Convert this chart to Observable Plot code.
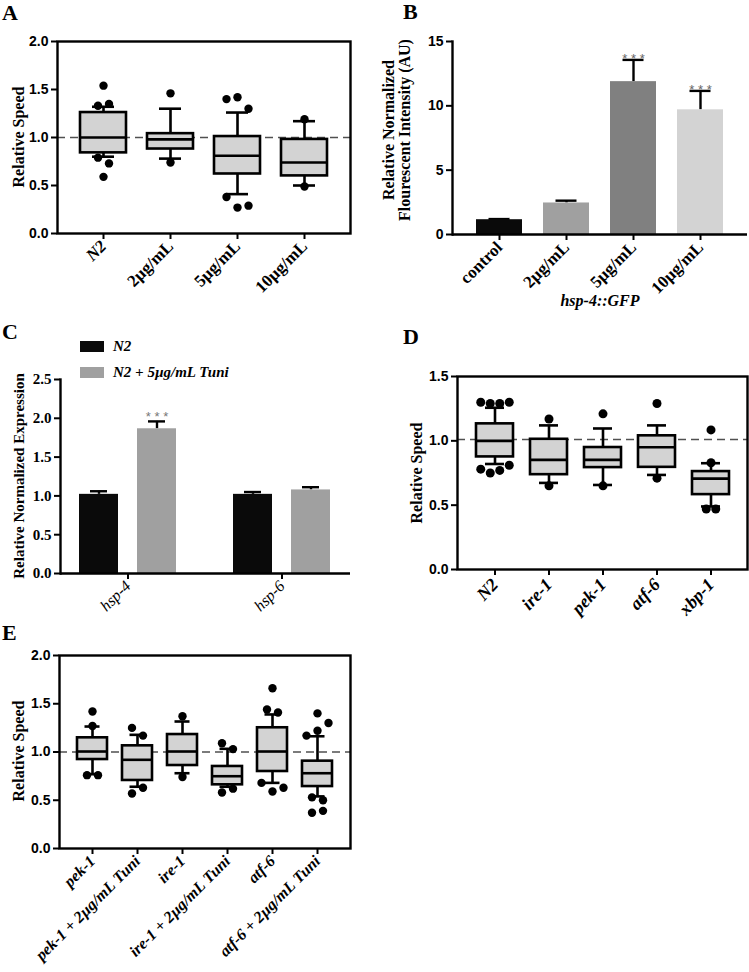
<!DOCTYPE html>
<html><head><meta charset="utf-8">
<script src="https://cdn.jsdelivr.net/npm/d3@7"></script>
<script src="https://cdn.jsdelivr.net/npm/@observablehq/plot@0.6"></script>
<style>
body{margin:0;background:#fff;}
#fig{position:relative;width:749px;height:972px;overflow:hidden;background:#fff;}
.letter{position:absolute;font-family:"Liberation Serif",serif;font-weight:bold;font-size:22px;line-height:1;}
.leg{position:absolute;font-family:"Liberation Serif",serif;font-weight:bold;font-style:italic;font-size:15px;line-height:1;white-space:nowrap;}
.sw{position:absolute;width:24px;height:11px;}
.vlab{position:absolute;font-family:"Liberation Serif",serif;font-weight:bold;white-space:pre;text-align:center;transform:translate(-50%,-50%) rotate(-90deg);}
</style></head><body><div id="fig"></div>
<script>
// ---------- Panel A data ----------
const groupsA = ["N2", "2µg/mL", "5µg/mL", "10µg/mL"];
const lowA = [0.80, 0.78, 0.41, 0.50];
const q1A = [0.84, 0.88, 0.62, 0.60];
const medA = [1.00, 0.98, 0.81, 0.74];
const q3A = [1.26, 1.04, 1.01, 0.98];
const highA = [1.32, 1.30, 1.26, 1.17];
const pointsA = [["N2",1.33],["N2",1.35],["N2",1.54],["N2",0.79],["N2",0.73],["N2",0.59],
  ["2µg/mL",1.46],["2µg/mL",0.74],
  ["5µg/mL",1.40],["5µg/mL",1.42],["5µg/mL",1.30],["5µg/mL",0.38],["5µg/mL",0.27],["5µg/mL",0.29],
  ["10µg/mL",1.19],["10µg/mL",0.49]];
const ticksA = [0, 0.5, 1.0, 1.5, 2.0];

// ---------- Panel B data ----------
const groupsB = ["control", "2µg/mL", "5µg/mL", "10µg/mL"];
const meanB = [1.15, 2.45, 11.88, 9.69];
const errB = [0.05, 0.18, 1.69, 1.47];
const colorsB = ["#0a0a0a", "#a0a0a0", "#808080", "#d3d3d3"];
const starsB = ["", "", "* * *", "* * *"];
const ticksB = [0, 5, 10, 15];

// ---------- Panel C data ----------
const genesC = ["hsp-4", "hsp-6"];
const seriesC = ["N2", "N2 + 5µg/mL Tuni"];
const n2MeanC = [1.02, 1.02];
const n2ErrC = [0.04, 0.03];
const tuniMeanC = [1.865, 1.077];
const tuniErrC = [0.095, 0.035];
const starsC = ["* * *", ""];
const colorsC = ["#0a0a0a", "#a0a0a0"];
const ticksC = [0, 0.5, 1.0, 1.5, 2.0, 2.5];

// ---------- Panel D data ----------
const groupsD = ["N2", "ire-1", "pek-1", "atf-6", "xbp-1"];
const lowD = [0.82, 0.673, 0.657, 0.735, 0.49];
const q1D = [0.875, 0.737, 0.792, 0.794, 0.582];
const medD = [1.0, 0.852, 0.852, 0.95, 0.706];
const q3D = [1.132, 1.012, 0.948, 1.039, 0.761];
const highD = [1.257, 1.12, 1.096, 1.12, 0.826];
const pointsD = [["N2",1.30],["N2",1.29],["N2",1.29],["N2",1.30],["N2",0.78],["N2",0.75],["N2",0.77],["N2",0.81],
  ["ire-1",1.17],["ire-1",0.65],["pek-1",1.21],["pek-1",0.65],["atf-6",1.29],["atf-6",0.71],
  ["xbp-1",1.085],["xbp-1",0.83],["xbp-1",0.47],["xbp-1",0.47]];
const ticksD = [0, 0.5, 1.0, 1.5];

// ---------- Panel E data ----------
const groupsE = ["pek-1", "pek-1 + 2µg/mL Tuni", "ire-1", "ire-1 + 2µg/mL Tuni", "atf-6", "atf-6 + 2µg/mL Tuni"];
const lowE = [0.77, 0.64, 0.78, 0.64, 0.68, 0.54];
const q1E = [0.922, 0.705, 0.86, 0.66, 0.798, 0.642];
const medE = [1.005, 0.919, 1.005, 0.749, 1.005, 0.78];
const q3E = [1.147, 1.064, 1.181, 0.85, 1.251, 0.905];
const highE = [1.264, 1.178, 1.316, 1.033, 1.389, 1.163];
const pointsE = [["pek-1",1.42],["pek-1",1.27],["pek-1",0.76],["pek-1",0.76],
  ["pek-1 + 2µg/mL Tuni",1.25],["pek-1 + 2µg/mL Tuni",1.17],["pek-1 + 2µg/mL Tuni",0.57],["pek-1 + 2µg/mL Tuni",0.63],
  ["ire-1",1.37],["ire-1",0.74],
  ["ire-1 + 2µg/mL Tuni",1.09],["ire-1 + 2µg/mL Tuni",1.03],["ire-1 + 2µg/mL Tuni",0.58],["ire-1 + 2µg/mL Tuni",0.62],
  ["atf-6",1.66],["atf-6",1.44],["atf-6",1.41],["atf-6",0.68],["atf-6",0.59],["atf-6",0.63],
  ["atf-6 + 2µg/mL Tuni",1.40],["atf-6 + 2µg/mL Tuni",1.17],["atf-6 + 2µg/mL Tuni",1.22],["atf-6 + 2µg/mL Tuni",1.30],
  ["atf-6 + 2µg/mL Tuni",0.53],["atf-6 + 2µg/mL Tuni",0.50],["atf-6 + 2µg/mL Tuni",0.37],["atf-6 + 2µg/mL Tuni",0.39]];
const ticksE = [0, 0.5, 1.0, 1.5, 2.0];

// ---------- helpers ----------
const TIMES = "'Liberation Serif', 'Times New Roman', serif";
const ARIAL = "'Liberation Sans', Arial, sans-serif";
const fig = document.getElementById("fig");
const f1 = d3.format(".1f");

function place(node, left, top) {
  node.style.position = "absolute";
  node.style.left = left + "px";
  node.style.top = top + "px";
  fig.appendChild(node);
}
function letter(t, left, top) {
  const d = document.createElement("div");
  d.className = "letter"; d.textContent = t;
  d.style.left = left + "px"; d.style.top = top + "px";
  fig.appendChild(d);
}
function vlabel(t, cx, cy, size, lh) {
  const d = document.createElement("div");
  d.className = "vlab"; d.textContent = t;
  d.style.left = cx + "px"; d.style.top = cy + "px";
  d.style.fontSize = size + "px"; d.style.lineHeight = (lh || size * 1.1) + "px";
  fig.appendChild(d);
}
// spread overlapping outlier dots sideways (clusters of close values)
function spread(points, threshold, spacing) {
  const out = points.map((p, i) => ({g: p[0], v: p[1], i, off: 0}));
  for (const [, arr] of d3.group(out, d => d.g)) {
    const s = arr.slice().sort((a, b) => a.v - b.v || a.i - b.i);
    const flush = c => { c.sort((a, b) => a.i - b.i); c.forEach((d, k) => d.off = (k - (c.length - 1) / 2) * spacing); };
    let c = [s[0]];
    for (let k = 1; k < s.length; k++) {
      if (s[k].v - s[k - 1].v < threshold) c.push(s[k]); else { flush(c); c = [s[k]]; }
    }
    flush(c);
  }
  return out;
}
const baseStyle = {background: "transparent", color: "black", overflow: "visible"};

function boxPanel(cfg) {
  const boxes = cfg.groups.map((g, i) => ({g, lo: cfg.low[i], q1: cfg.q1[i], med: cfg.med[i], q3: cfg.q3[i], hi: cfg.high[i]}));
  const pts = spread(cfg.points, cfg.threshold, cfg.spacing);
  const offs = [...new Set(pts.map(d => d.off))];
  const sw = 2.6;
  const xAxes = cfg.xAxes.map(a => Plot.axisX({ticks: a.ticks, tickRotate: cfg.rot, tickSize: 6, tickPadding: cfg.xPad,
    fontFamily: TIMES, fontWeight: "bold", fontStyle: a.style, fontSize: cfg.xFont, strokeWidth: 2, label: null}));
  return Plot.plot({
    width: cfg.width, height: cfg.height,
    marginLeft: cfg.ml, marginRight: cfg.mr, marginTop: cfg.mt, marginBottom: cfg.mb,
    style: baseStyle,
    x: {domain: cfg.groups, paddingInner: cfg.pin, paddingOuter: cfg.pout, axis: null},
    y: {domain: cfg.yDomain, axis: null},
    marks: [
      Plot.ruleY([cfg.ref], {stroke: "#505050", strokeDasharray: "8,5", strokeWidth: 1.4}),
      Plot.ruleX(boxes, {x: "g", y1: "lo", y2: "hi", stroke: "black", strokeWidth: sw}),
      Plot.tickY(boxes, {x: "g", y: "lo", insetLeft: cfg.cap, insetRight: cfg.cap, strokeWidth: sw}),
      Plot.tickY(boxes, {x: "g", y: "hi", insetLeft: cfg.cap, insetRight: cfg.cap, strokeWidth: sw}),
      Plot.barY(boxes, {x: "g", y1: "q1", y2: "q3", fill: "#d3d3d3", stroke: "black", strokeWidth: sw}),
      Plot.tickY(boxes, {x: "g", y: "med", strokeWidth: sw}),
      ...offs.map(o => Plot.dot(pts.filter(d => d.off === o), {x: "g", y: "v", dx: o, r: cfg.r, fill: "black"})),
      Plot.frame({stroke: "black", strokeWidth: 2.4}),
      Plot.axisY({ticks: cfg.yTicks, tickFormat: f1, tickSize: 6, tickPadding: 3, fontFamily: ARIAL, fontWeight: "bold", fontSize: 14, strokeWidth: 2, label: null}),
      ...xAxes
    ]
  });
}

// ---------- Panel A ----------
place(boxPanel({
  groups: groupsA, low: lowA, q1: q1A, med: medA, q3: q3A, high: highA, points: pointsA,
  threshold: 0.1, spacing: 11, r: 4.2, cap: 12, ref: 1.0,
  width: 370, height: 310, ml: 57, mr: 20, mt: 41, mb: 77,
  pin: 0.31, pout: 0.34, yDomain: [0, 2], yTicks: ticksA, xFont: 17, rot: -45, xPad: 4,
  xAxes: [{ticks: groupsA.slice(0, 1), style: "italic"}, {ticks: groupsA.slice(1), style: "normal"}]
}), 0, 0);
vlabel("Relative Speed", 19, 137, 16);

// ---------- Panel B ----------
const dataB = groupsB.map((g, i) => ({g, mean: meanB[i], top: meanB[i] + errB[i], color: colorsB[i], star: starsB[i]}));
place(Plot.plot({
  width: 379, height: 310, marginLeft: 82, marginRight: 2, marginTop: 41, marginBottom: 76,
  style: baseStyle,
  x: {domain: groupsB, paddingInner: 0.313, paddingOuter: 0.357, axis: null},
  y: {domain: [0, 15], axis: null},
  color: {type: "identity"},
  marks: [
    Plot.ruleX(dataB, {x: "g", y1: "mean", y2: "top", strokeWidth: 2.4}),
    Plot.tickY(dataB, {x: "g", y: "top", insetLeft: 12.5, insetRight: 12.5, strokeWidth: 2.4}),
    Plot.barY(dataB, {x: "g", y: "mean", fill: "color"}),
    Plot.text(dataB, {x: "g", y: "top", text: "star", lineAnchor: "bottom", dy: 3, fill: "#666", fontFamily: ARIAL, fontSize: 13}),
    Plot.ruleY([0], {strokeWidth: 2.4}),
    Plot.frame({anchor: "left", strokeWidth: 2.4}),
    Plot.axisY({ticks: ticksB, tickSize: 6, tickPadding: 3, fontFamily: ARIAL, fontWeight: "bold", fontSize: 14, strokeWidth: 2, label: null}),
    Plot.axisX({tickRotate: -45, tickSize: 6, tickPadding: 4, fontFamily: TIMES, fontWeight: "bold", fontSize: 17, strokeWidth: 2, label: null}),
    Plot.text(["hsp-4::GFP"], {frameAnchor: "bottom", text: d => d, dy: 71, fontFamily: TIMES, fontWeight: "bold", fontStyle: "italic", fontSize: 16})
  ]
}), 370, 0);
vlabel("Relative Normalized\nFlourescent Intensity (AU)", 397, 130, 16, 16);

// ---------- Panel C ----------
const dataC = genesC.map((g, i) => ({g, n2: n2MeanC[i], n2top: n2MeanC[i] + n2ErrC[i], tu: tuniMeanC[i], tutop: tuniMeanC[i] + tuniErrC[i], star: starsC[i]}));
const barW = 40, gapC = 18, groupW = 2 * barW + gapC, half = (barW + gapC) / 2;
const capW = 18, capIn = (groupW - capW) / 2;
place(Plot.plot({
  width: 370, height: 305, marginLeft: 60, marginRight: 20, marginTop: 59, marginBottom: 52,
  style: baseStyle,
  x: {domain: genesC, paddingInner: 0.368, paddingOuter: 0.12, axis: null},
  y: {domain: [0, 2.5], axis: null},
  marks: [
    Plot.ruleX(dataC, {x: "g", y1: "n2", y2: "n2top", dx: -half, strokeWidth: 2.4}),
    Plot.tickY(dataC, {x: "g", y: "n2top", dx: -half, insetLeft: capIn, insetRight: capIn, strokeWidth: 2.4}),
    Plot.ruleX(dataC, {x: "g", y1: "tu", y2: "tutop", dx: half, strokeWidth: 2.4}),
    Plot.tickY(dataC, {x: "g", y: "tutop", dx: half, insetLeft: capIn, insetRight: capIn, strokeWidth: 2.4}),
    Plot.barY(dataC, {x: "g", y: "n2", insetRight: groupW - barW, fill: colorsC[0]}),
    Plot.barY(dataC, {x: "g", y: "tu", insetLeft: groupW - barW, fill: colorsC[1]}),
    Plot.text(dataC, {x: "g", y: "tutop", dx: half, text: "star", lineAnchor: "bottom", dy: 0, fill: "#777", fontFamily: ARIAL, fontSize: 13}),
    Plot.ruleY([0], {strokeWidth: 2.4}),
    Plot.frame({anchor: "left", strokeWidth: 2.4}),
    Plot.axisY({ticks: ticksC, tickFormat: f1, tickSize: 6, tickPadding: 3, fontFamily: TIMES, fontWeight: "bold", fontSize: 15, strokeWidth: 2, label: null}),
    Plot.axisX({tickRotate: -45, tickSize: 6, tickPadding: 4, fontFamily: TIMES, fontStyle: "italic", fontSize: 16, strokeWidth: 2, label: null})
  ]
}), 0, 320);
vlabel("Relative Normalized Expression", 19, 476, 15);
// legend C
seriesC.forEach((s, i) => {
  const sq = document.createElement("div");
  sq.className = "sw"; sq.style.background = colorsC[i];
  sq.style.left = "80px"; sq.style.top = (341 + i * 26) + "px";
  fig.appendChild(sq);
  const t = document.createElement("div");
  t.className = "leg"; t.textContent = s;
  t.style.left = "113px"; t.style.top = (339 + i * 26) + "px";
  fig.appendChild(t);
});

// ---------- Panel D ----------
place(boxPanel({
  groups: groupsD, low: lowD, q1: q1D, med: medD, q3: q3D, high: highD, points: pointsD,
  threshold: 0.1, spacing: 9.5, r: 4.5, cap: 9, ref: 1.01,
  width: 379, height: 300, ml: 87, mr: 2, mt: 56, mb: 51,
  pin: 0.32, pout: 0.325, yDomain: [0, 1.5], yTicks: ticksD, xFont: 18, rot: -47, xPad: 6,
  xAxes: [{ticks: groupsD, style: "italic"}]
}), 370, 320);
vlabel("Relative Speed", 417, 473, 16);

// ---------- Panel E ----------
place(boxPanel({
  groups: groupsE, low: lowE, q1: q1E, med: medE, q3: q3E, high: highE, points: pointsE,
  threshold: 0.09, spacing: 11, r: 4.2, cap: 7.5, ref: 1.0,
  width: 370, height: 352, ml: 59, mr: 20, mt: 35, mb: 124,
  pin: 0.344, pout: 0.357, yDomain: [0, 2], yTicks: ticksE, xFont: 16, rot: -45, xPad: 4,
  xAxes: [{ticks: groupsE, style: "italic"}]
}), 0, 620);
vlabel("Relative Speed", 19, 751, 16);

letter("A", 2, 2);
letter("B", 403, 1);
letter("C", 2, 321);
letter("D", 403, 326);
letter("E", 2, 622);
</script></body></html>
